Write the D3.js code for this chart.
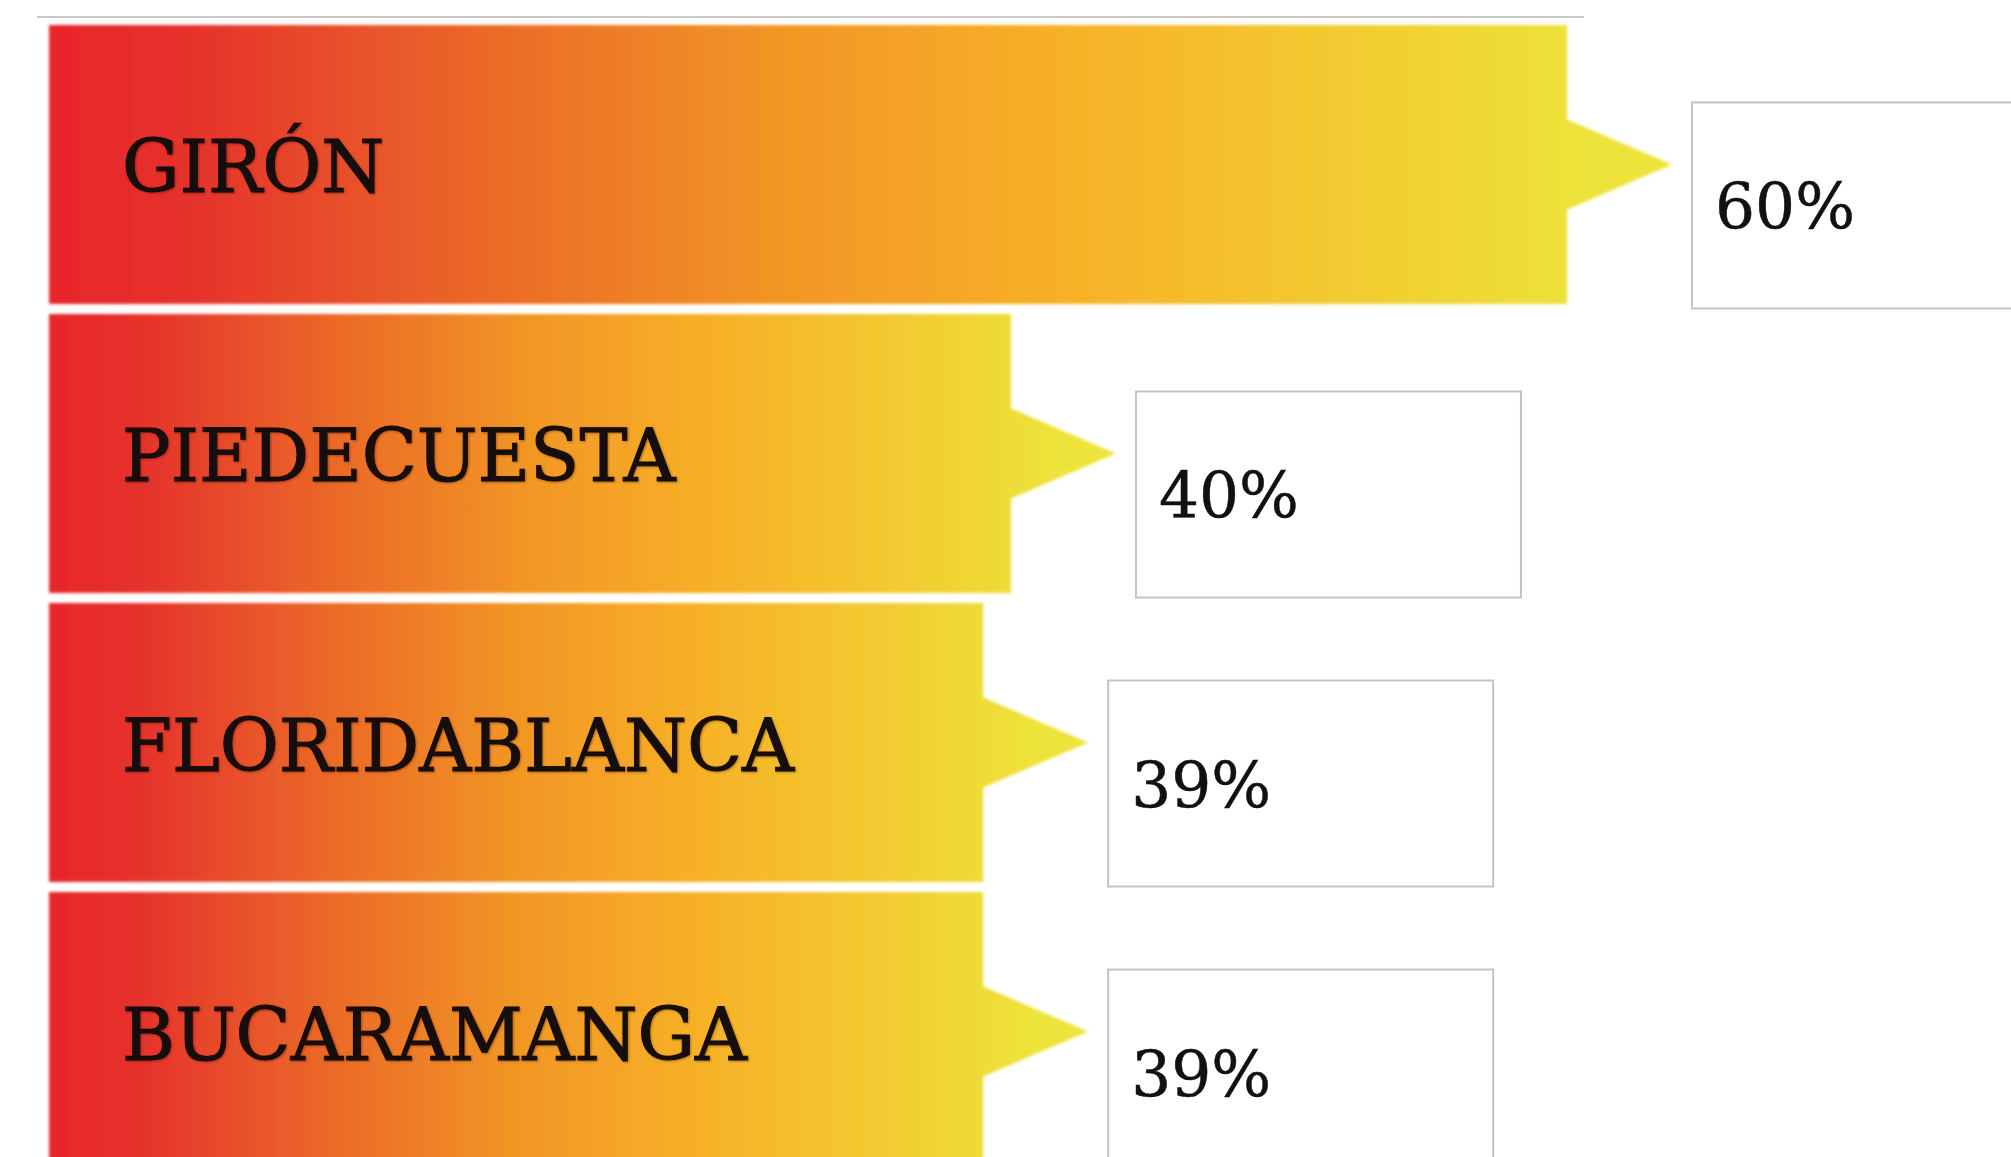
<!DOCTYPE html>
<html>
<head>
<meta charset="utf-8">
<script src="https://cdn.jsdelivr.net/npm/d3@7"></script>
<style>
    body { margin: 0; background: #ffffff; overflow: hidden; }
    .label { font-family: "DejaVu Serif", serif; font-size: 72px; fill: #140808; stroke: #140808; stroke-width: 0.9; }
    .valueText { font-family: "DejaVu Serif", serif; font-size: 63px; fill: #111111; stroke: #111111; stroke-width: 0.5; }
    .valueBox { fill: #ffffff; stroke: #c4c4c4; stroke-width: 2; }
    .topLine { stroke: #c8c8c8; stroke-width: 2; }
</style>
</head>
<body>
<script>
//anonymous function to wrap script
(function(){

    //chart data
    var municipios = ["GIRÓN", "PIEDECUESTA", "FLORIDABLANCA", "BUCARAMANGA"]; //categories
    var porcentajes = [60, 40, 39, 39]; //series values
    var etiquetas = ["60%", "40%", "39%", "39%"]; //value labels

    //gradient colours, red to yellow
    var gradStops = [
        [0, "#e8262b"], [0.08, "#e5302b"], [0.25, "#ea6428"],
        [0.45, "#f29624"], [0.62, "#f7b027"], [0.8, "#f2cb30"], [0.95, "#ede43a"]
    ];

    window.onload = setChart();

    function setChart(){
        var width = 2011,
            height = 1157;

        var svg = d3.select("body")
            .append("svg")
            .attr("width", width)
            .attr("height", height);

        var defs = svg.append("defs");

        //one gradient stretched over each bar
        var grad = defs.append("linearGradient")
            .attr("id", "barGrad")
            .attr("x1", 0).attr("x2", 1)
            .attr("y1", 0).attr("y2", 0);
        grad.selectAll("stop")
            .data(gradStops)
            .enter()
            .append("stop")
            .attr("offset", function(d){ return d[0]; })
            .attr("stop-color", function(d){ return d[1]; });

        //soft edges like the original image
        defs.append("filter")
            .attr("id", "soft")
            .attr("x", "-5%").attr("y", "-5%")
            .attr("width", "110%").attr("height", "110%")
            .append("feGaussianBlur")
            .attr("stdDeviation", 1.6);

        //slight shadow under the labels
        var shadow = defs.append("filter").attr("id", "textShadow");
        shadow.append("feDropShadow")
            .attr("dx", 1).attr("dy", 1)
            .attr("stdDeviation", 1.2)
            .attr("flood-color", "#000")
            .attr("flood-opacity", 0.35);

        //scales
        var x = d3.scaleLinear()
            .domain([5.4, 60])
            .range([49, 1567]);

        var y = d3.scaleBand()
            .domain(municipios)
            .range([25, 1171])
            .paddingInner(0.035)
            .paddingOuter(0);

        var arrowLen = 105,
            arrowHalf = 45;

        //thin rule above the chart
        svg.append("line")
            .attr("class", "topLine")
            .attr("x1", 37).attr("x2", 1584)
            .attr("y1", 17).attr("y2", 17);

        //bars with the arrow tip on the right end
        svg.append("g")
            .attr("filter", "url(#soft)")
            .selectAll(".bar")
            .data(municipios)
            .enter()
            .append("path")
            .attr("class", "bar")
            .attr("fill", "url(#barGrad)")
            .attr("d", function(d, i){
                var x0 = x.range()[0],
                    xe = x(porcentajes[i]),
                    top = y(d),
                    bot = y(d) + y.bandwidth(),
                    cy = top + y.bandwidth() / 2;
                var p = d3.path();
                p.moveTo(x0, top);
                p.lineTo(xe, top);
                p.lineTo(xe, cy - arrowHalf);
                p.lineTo(xe + arrowLen, cy);
                p.lineTo(xe, cy + arrowHalf);
                p.lineTo(xe, bot);
                p.lineTo(x0, bot);
                p.closePath();
                return p.toString();
            });

        //municipality names
        svg.selectAll(".label")
            .data(municipios)
            .enter()
            .append("text")
            .attr("class", "label")
            .attr("filter", "url(#textShadow)")
            .attr("x", 122)
            .attr("y", function(d){ return y(d) + y.bandwidth() / 2 + 28; })
            .text(function(d){ return d; });

        //value boxes next to the arrow tips
        var boxes = svg.selectAll(".valueGroup")
            .data(municipios)
            .enter()
            .append("g")
            .attr("class", "valueGroup")
            .attr("transform", function(d, i){
                var bx = x(porcentajes[i]) + arrowLen + 20,
                    by = y(d) + y.bandwidth() / 2 - 62;
                return "translate(" + bx + "," + by + ")";
            });

        boxes.append("rect")
            .attr("class", "valueBox")
            .attr("width", 385)
            .attr("height", 206);

        boxes.append("text")
            .attr("class", "valueText")
            .attr("x", 23)
            .attr("y", 127)
            .text(function(d, i){ return etiquetas[i]; });
    };

})();
</script>
</body>
</html>
